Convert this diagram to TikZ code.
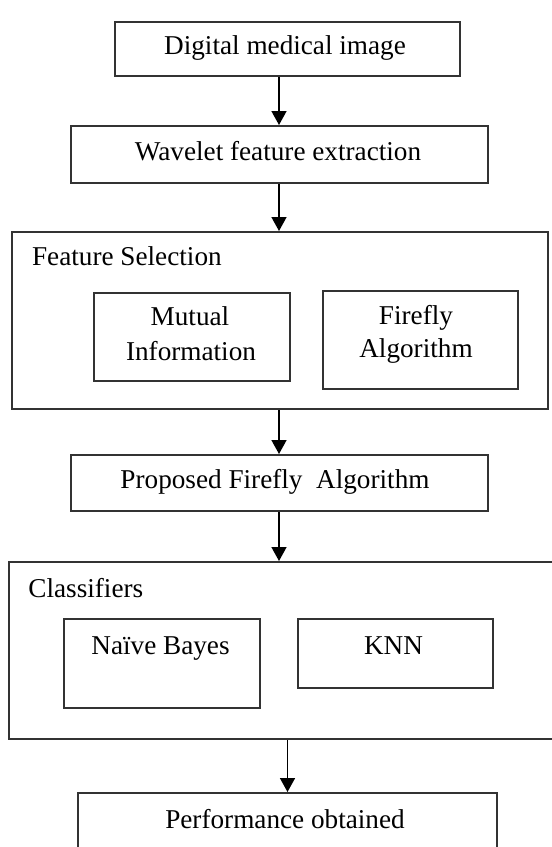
\documentclass[tikz,border=0pt]{standalone}
\usepackage{fontspec}
\setmainfont{Liberation Serif}
\usetikzlibrary{arrows.meta}
\newcommand{\FlowTip}{Triangle[length=7,width=7.5]}
\tikzset{box/.style={draw=black!80,line width=1pt,inner sep=0pt}}
\tikzset{txt/.style={anchor=base,inner sep=0pt,font=\fontsize{13.6}{16}\selectfont}}
\tikzset{flow/.style={draw=black,line width=.8pt,-{\FlowTip}}}
\begin{document}
\begin{tikzpicture}[x=.5pt,y=-.5pt]
\useasboundingbox(0,0)rectangle(552,847);
\node(img)[box,minimum width=172.5pt,minimum height=27pt]at(287,49){};
\node(wav)[box,minimum width=208.5pt,minimum height=28.5pt]at(279,154.5){};
\node(sel)[box,minimum width=268pt,minimum height=88.5pt]at(280.25,320.5){};
\node(pfa)[box,minimum width=208.5pt,minimum height=28pt]at(279,483){};
\node(cls)[box,minimum width=283.25pt,minimum height=88.5pt]at(291.75,650.5){};
\node(prf)[box,minimum width=209.5pt,minimum height=43.5pt]at(287.5,836.5){};
\node(mut)[box,minimum width=97.7pt,minimum height=44pt]at(192,337){};
\node(ffa)[box,minimum width=97.5pt,minimum height=49pt]at(420.75,339.5){};
\node(nb)[box,minimum width=97.75pt,minimum height=44.5pt]at(162,663.5){};
\node(knn)[box,minimum width=97.5pt,minimum height=34.5pt]at(395,653.5){};
\begin{scope}[txt]
\node(imgt)at(285,54){Digital medical image};
\node(wavt)at(278,160.5){Wavelet feature extraction};
\node(selt)[anchor=base west]at(31.7,265){Feature Selection};
\node(mutt1)at(190,325){Mutual};\node(mutt2)at(191,360){Information};
\node(ffat1)at(416,324){Firefly};\node(ffat2)at(416,357){Algorithm};
\node(pfat)at(275,488){Proposed Firefly~ Algorithm};
\node(clst)[anchor=base west]at(28,597){Classifiers};
\node(nbt)at(160.5,654){Na\"ive Bayes};\node(knnt)at(393.5,654){KNN};
\node(prft)at(285,828){Performance obtained};
\end{scope}
\draw[flow](wav.north|-img.south)--(wav.north);
\draw[flow](wav.south)--(wav.south|-sel.north);
\draw[flow](pfa.north|-sel.south)--(pfa.north);
\draw[flow](pfa.south)--(pfa.south|-cls.north);
\draw[flow](prf.north|-cls.south)--(prf.north);
\end{tikzpicture}
\end{document}
